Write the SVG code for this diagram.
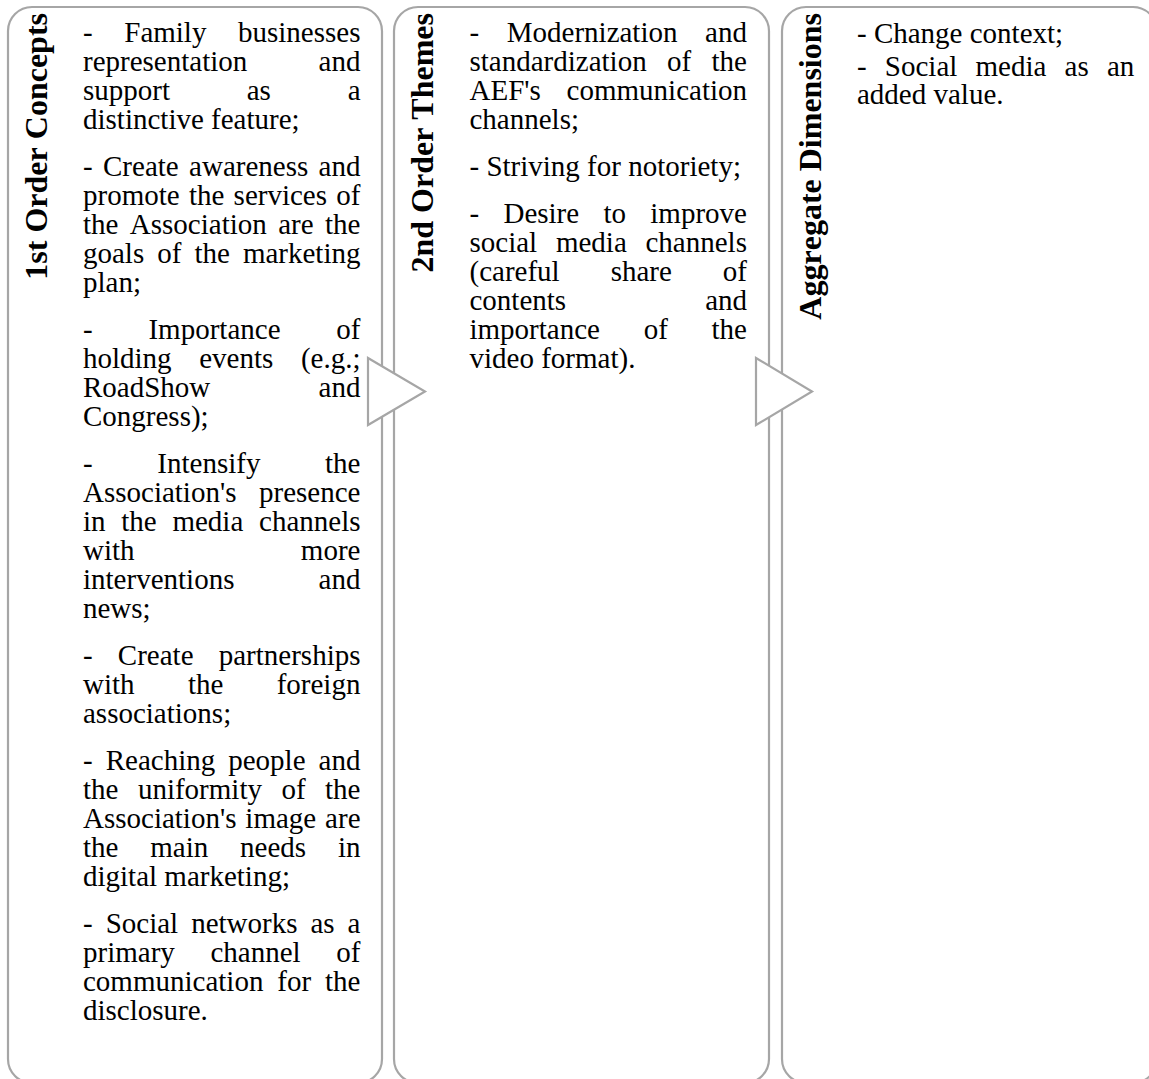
<svg xmlns="http://www.w3.org/2000/svg" width="1149" height="1079" viewBox="0 0 1149 1079">
  <style>
    .panel { fill: #ffffff; stroke: #a6a6a6; stroke-width: 2.2; }
    .arrow { fill: #ffffff; stroke: #a6a6a6; stroke-width: 2.2; stroke-linejoin: miter; }
    .body { font-family: "Liberation Serif", "Times New Roman", serif; font-size: 29px; fill: #000000; font-kerning: none; }
    .head { font-family: "Liberation Serif", "Times New Roman", serif; font-size: 32px; font-weight: bold; fill: #000000; text-anchor: end; font-kerning: none; }
  </style>
  <rect width="1149" height="1079" fill="#ffffff"/>

  <!-- Column 1: first order concepts -->
  <g id="col-concepts">
    <rect class="panel" x="8" y="7" width="374" height="1076" rx="24" ry="24"/>
    <text class="head" transform="translate(46.5,13) rotate(-90)">1st Order Concepts</text>
    <text class="body" x="83" y="41.7" word-spacing="24.35">- Family businesses</text>
    <text class="body" x="83" y="70.7" word-spacing="64.05">representation and</text>
    <text class="body" x="83" y="99.7" word-spacing="69.5">support as a</text>
    <text class="body" x="83" y="128.7">distinctive feature;</text>
    <text class="body" x="83" y="175.7" word-spacing="3.12">- Create awareness and</text>
    <text class="body" x="83" y="204.7" word-spacing="2.02">promote the services of</text>
    <text class="body" x="83" y="233.7" word-spacing="4.18">the Association are the</text>
    <text class="body" x="83" y="262.7" word-spacing="5.78">goals of the marketing</text>
    <text class="body" x="83" y="291.7">plan;</text>
    <text class="body" x="83" y="338.7" word-spacing="48.55">- Importance of</text>
    <text class="body" x="83" y="367.7" word-spacing="20.35">holding events (e.g.;</text>
    <text class="body" x="83" y="396.7" word-spacing="101.05">RoadShow and</text>
    <text class="body" x="83" y="425.7">Congress);</text>
    <text class="body" x="83" y="472.7" word-spacing="57.4">- Intensify the</text>
    <text class="body" x="83" y="501.7" word-spacing="15.35">Association's presence</text>
    <text class="body" x="83" y="530.7" word-spacing="8.48">in the media channels</text>
    <text class="body" x="83" y="559.7" word-spacing="159.05">with more</text>
    <text class="body" x="83" y="588.7" word-spacing="76.95">interventions and</text>
    <text class="body" x="83" y="617.7">news;</text>
    <text class="body" x="83" y="664.7" word-spacing="17.95">- Create partnerships</text>
    <text class="body" x="83" y="693.7" word-spacing="46.1">with the foreign</text>
    <text class="body" x="83" y="722.7">associations;</text>
    <text class="body" x="83" y="769.7" word-spacing="5.78">- Reaching people and</text>
    <text class="body" x="83" y="798.7" word-spacing="12.22">the uniformity of the</text>
    <text class="body" x="83" y="827.7" word-spacing="1.65">Association's image are</text>
    <text class="body" x="83" y="856.7" word-spacing="24.58">the main needs in</text>
    <text class="body" x="83" y="885.7">digital marketing;</text>
    <text class="body" x="83" y="932.7" word-spacing="5.75">- Social networks as a</text>
    <text class="body" x="83" y="961.7" word-spacing="28.4">primary channel of</text>
    <text class="body" x="83" y="990.7" word-spacing="6.65">communication for the</text>
    <text class="body" x="83" y="1019.7">disclosure.</text>
  </g>

  <!-- Column 2: second order themes -->
  <g id="col-themes">
    <rect class="panel" x="394" y="7" width="375" height="1076" rx="24" ry="24"/>
    <text class="head" transform="translate(432.5,13) rotate(-90)">2nd Order Themes</text>
    <text class="body" x="469.5" y="41.7" word-spacing="20.35">- Modernization and</text>
    <text class="body" x="469.5" y="70.7" word-spacing="13.1">standardization of the</text>
    <text class="body" x="469.5" y="99.7" word-spacing="18.55">AEF's communication</text>
    <text class="body" x="469.5" y="128.7">channels;</text>
    <text class="body" x="469.5" y="175.7">- Striving for notoriety;</text>
    <text class="body" x="469.5" y="222.7" word-spacing="17.05">- Desire to improve</text>
    <text class="body" x="469.5" y="251.7" word-spacing="11.5">social media channels</text>
    <text class="body" x="469.5" y="280.7" word-spacing="43.75">(careful share of</text>
    <text class="body" x="469.5" y="309.7" word-spacing="131.75">contents and</text>
    <text class="body" x="469.5" y="338.7" word-spacing="36.45">importance of the</text>
    <text class="body" x="469.5" y="367.7">video format).</text>
  </g>

  <!-- Column 3: aggregate dimensions -->
  <g id="col-dimensions">
    <rect class="panel" x="782" y="7" width="375" height="1076" rx="24" ry="24"/>
    <text class="head" transform="translate(820.5,13) rotate(-90)">Aggregate Dimensions</text>
    <text class="body" x="857" y="42.5">- Change context;</text>
    <text class="body" x="857" y="75.5" word-spacing="10.95">- Social media as an</text>
    <text class="body" x="857" y="104.3">added value.</text>
  </g>

  <!-- Flow arrows between the columns -->
  <g id="connectors">
    <polygon class="arrow" points="368,358 425,391.5 368,425"/>
    <polygon class="arrow" points="756,358 812,391.5 756,425"/>
  </g>
</svg>
